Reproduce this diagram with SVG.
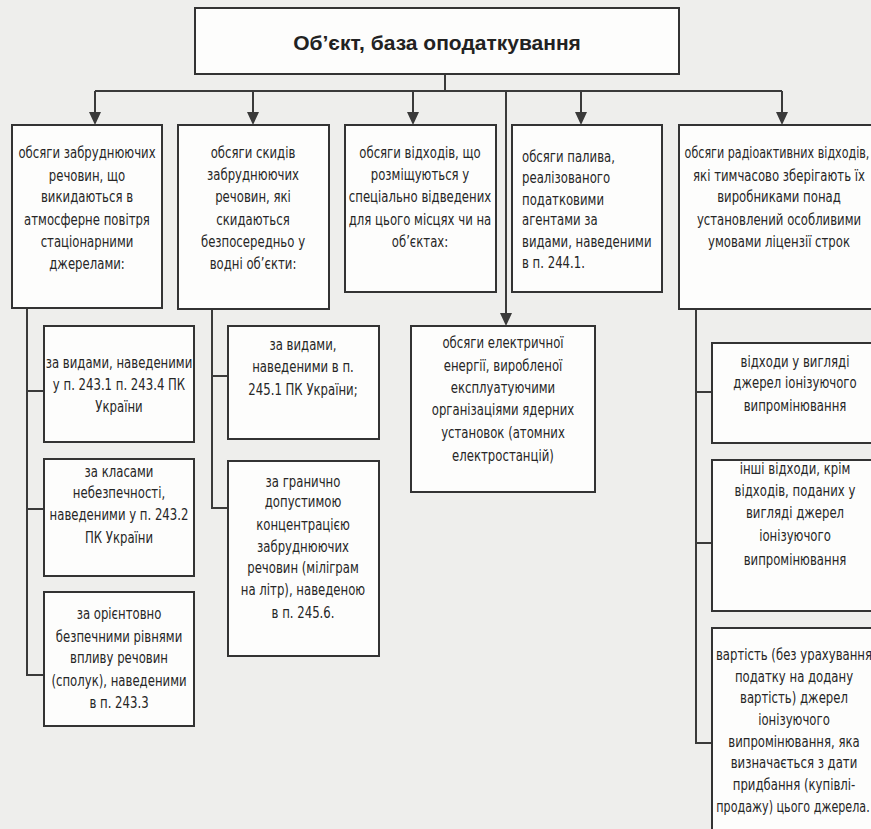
<svg xmlns="http://www.w3.org/2000/svg" width="871" height="829" viewBox="0 0 871 829">
<defs>
<style>
.bg{fill:#eeeeec}
.box{fill:#fdfdfc;stroke:#333;stroke-width:2}
.ln{fill:none;stroke:#3a3a3a;stroke-width:2}
.t{font-family:"DejaVu Sans Condensed","Liberation Sans",sans-serif;font-size:15.5px;fill:#262626;text-anchor:middle}
.l{text-anchor:start}
.title{font-family:"Liberation Sans","DejaVu Sans",sans-serif;font-weight:bold;font-size:21px;fill:#222;text-anchor:middle}
</style>
</defs>
<rect class="bg" x="0" y="0" width="871" height="829"/>

<g id="connectors">
<path class="ln" d="M445,74 V91 M95,91 H782"/>
<line class="ln" x1="95" y1="91" x2="95" y2="112"/>
<line class="ln" x1="253" y1="91" x2="253" y2="112"/>
<line class="ln" x1="413" y1="91" x2="413" y2="112"/>
<line class="ln" x1="581" y1="91" x2="581" y2="112"/>
<line class="ln" x1="782" y1="91" x2="782" y2="112"/>
<line class="ln" x1="506" y1="91" x2="506" y2="313"/>
<path d="M89,112 H101 L95,125 Z M247,112 H259 L253,125 Z M407,112 H419 L413,125 Z M575,112 H587 L581,125 Z M776,112 H788 L782,125 Z M500,313 H512 L506,326 Z" fill="#3a3a3a"/>
<path class="ln" d="M27,308 V675 H44 M27,391 H44 M27,509 H44"/>
<path class="ln" d="M212,309 V508 H228 M212,376 H228"/>
<path class="ln" d="M696,309 V743 H712 M696,392 H712 M696,543 H712"/>
</g>

<g id="root">
<rect class="box" x="195" y="8" width="484" height="66"/>
<text class="title" x="437" y="50">Об’єкт, база оподаткування</text>
</g>

<g id="n1">
<rect class="box" x="12" y="125" width="150" height="183"/>
<text class="t" transform="translate(87,0) scale(0.84,1)"><tspan x="0" y="158">обсяги забруднюючих</tspan><tspan x="0" y="181">речовин, що</tspan><tspan x="0" y="202">викидаються в</tspan><tspan x="0" y="225">атмосферне повітря</tspan><tspan x="0" y="247">стаціонарними</tspan><tspan x="0" y="269">джерелами:</tspan></text>
</g>

<g id="n2">
<rect class="box" x="178" y="125" width="151" height="184"/>
<text class="t" transform="translate(253,0) scale(0.84,1)"><tspan x="0" y="158">обсяги скидів</tspan><tspan x="0" y="180">забруднюючих</tspan><tspan x="0" y="202">речовин, які</tspan><tspan x="0" y="225">скидаються</tspan><tspan x="0" y="247">безпосередньо у</tspan><tspan x="0" y="269">водні об’єкти:</tspan></text>
</g>

<g id="n3">
<rect class="box" x="345" y="125" width="151" height="167"/>
<text class="t" transform="translate(420,0) scale(0.84,1)"><tspan x="0" y="158">обсяги відходів, що</tspan><tspan x="0" y="180">розміщуються у</tspan><tspan x="0" y="202">спеціально відведених</tspan><tspan x="0" y="225">для цього місцях чи на</tspan><tspan x="0" y="247">об’єктах:</tspan></text>
</g>

<g id="n4">
<rect class="box" x="512" y="125" width="150" height="167"/>
<text class="t l" transform="translate(522,0) scale(0.84,1)"><tspan x="0" y="162">обсяги палива,</tspan><tspan x="0" y="183">реалізованого</tspan><tspan x="0" y="205">податковими</tspan><tspan x="0" y="225">агентами за</tspan><tspan x="0" y="247">видами, наведеними</tspan><tspan x="0" y="268">в п.  244.1.</tspan></text>
</g>

<g id="n5">
<rect class="box" x="679" y="125" width="200" height="184"/>
<text class="t" transform="translate(777,0) scale(0.8,1)"><tspan x="0" y="158">обсяги радіоактивних відходів,</tspan></text>
<text class="t" transform="translate(779,0) scale(0.84,1)"><tspan x="0" y="181">які тимчасово зберігають їх</tspan><tspan x="0" y="202">виробниками понад</tspan><tspan x="0" y="225">установлений особливими</tspan><tspan x="0" y="247">умовами ліцензії строк</tspan></text>
</g>

<g id="n6">
<rect class="box" x="411" y="326" width="184" height="166"/>
<text class="t" transform="translate(503,0) scale(0.84,1)"><tspan x="0" y="348">обсяги електричної</tspan><tspan x="0" y="371">енергії, виробленої</tspan><tspan x="0" y="393">експлуатуючими</tspan><tspan x="0" y="415">організаціями ядерних</tspan><tspan x="0" y="438">установок (атомних</tspan><tspan x="0" y="461">електростанцій)</tspan></text>
</g>

<g id="n1a">
<rect class="box" x="44" y="326" width="150" height="116"/>
<text class="t" transform="translate(119,0) scale(0.84,1)"><tspan x="0" y="368">за видами, наведеними</tspan><tspan x="0" y="390">у п. 243.1 п. 243.4 ПК</tspan><tspan x="0" y="412">України</tspan></text>
</g>

<g id="n1b">
<rect class="box" x="44" y="459" width="150" height="117"/>
<text class="t" transform="translate(119,0) scale(0.84,1)"><tspan x="0" y="477">за класами</tspan><tspan x="0" y="498">небезпечності,</tspan><tspan x="0" y="520">наведеними у п. 243.2</tspan><tspan x="0" y="543">ПК України</tspan></text>
</g>

<g id="n1c">
<rect class="box" x="44" y="592" width="150" height="134"/>
<text class="t" transform="translate(119,0) scale(0.84,1)"><tspan x="0" y="619">за орієнтовно</tspan><tspan x="0" y="642">безпечними рівнями</tspan><tspan x="0" y="663">впливу речовин</tspan><tspan x="0" y="686">(сполук), наведеними</tspan><tspan x="0" y="708">в  п. 243.3</tspan></text>
</g>

<g id="n2a">
<rect class="box" x="228" y="326" width="151" height="113"/>
<text class="t" transform="translate(303,0) scale(0.84,1)"><tspan x="0" y="350">за видами,</tspan><tspan x="0" y="372">наведеними в п.</tspan><tspan x="0" y="395">245.1 ПК України;</tspan></text>
</g>

<g id="n2b">
<rect class="box" x="228" y="461" width="151" height="195"/>
<text class="t" transform="translate(303,0) scale(0.84,1)"><tspan x="0" y="487">за гранично</tspan><tspan x="0" y="507">допустимою</tspan><tspan x="0" y="530">концентрацією</tspan><tspan x="0" y="552">забруднюючих</tspan><tspan x="0" y="573">речовин (міліграм</tspan><tspan x="0" y="595">на літр), наведеною</tspan><tspan x="0" y="618">в п. 245.6.</tspan></text>
</g>

<g id="n5a">
<rect class="box" x="712" y="343" width="170" height="100"/>
<text class="t" transform="translate(795,0) scale(0.84,1)"><tspan x="0" y="367">відходи у вигляді</tspan><tspan x="0" y="388">джерел іонізуючого</tspan><tspan x="0" y="411">випромінювання</tspan></text>
</g>

<g id="n5b">
<rect class="box" x="712" y="460" width="170" height="151"/>
<text class="t" transform="translate(795,0) scale(0.84,1)"><tspan x="0" y="474">інші відходи, крім</tspan><tspan x="0" y="496">відходів, поданих у</tspan><tspan x="0" y="518">вигляді джерел</tspan><tspan x="0" y="541">іонізуючого</tspan><tspan x="0" y="565">випромінювання</tspan></text>
</g>

<g id="n5c">
<rect class="box" x="712" y="628" width="170" height="220"/>
<text class="t" transform="translate(794,0) scale(0.84,1)"><tspan x="0" y="660">вартість (без урахування</tspan><tspan x="0" y="682">податку на додану</tspan><tspan x="0" y="703">вартість) джерел</tspan><tspan x="0" y="725">іонізуючого</tspan><tspan x="0" y="747">випромінювання, яка</tspan><tspan x="0" y="768">визначається з дати</tspan><tspan x="0" y="790">придбання (купівлі-</tspan></text>
<text class="t" transform="translate(793,0) scale(0.8,1)"><tspan x="0" y="812">продажу) цього джерела.</tspan></text>
</g>
</svg>
